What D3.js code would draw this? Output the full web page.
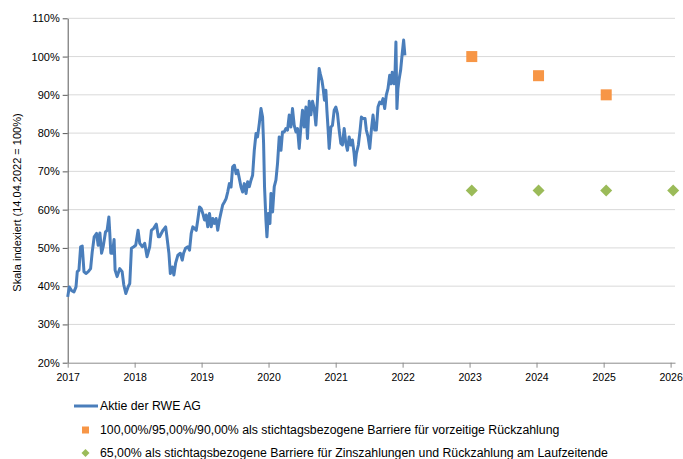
<!DOCTYPE html>
<html><head><meta charset="utf-8">
<script src="https://cdn.jsdelivr.net/npm/d3@7"></script>
<style>
html,body{margin:0;padding:0;background:#fff;}
svg{display:block;font-family:"Liberation Sans",Arial,sans-serif;}
</style></head>
<body><svg id="c" width="683" height="459"></svg>
<script>
// Stock (indexed, 14.04.2022 = 100%) — time in decimal years
const stockT = [2017.000,2017.024,2017.060,2017.094,2017.124,2017.143,2017.168,2017.193,2017.217,2017.243,2017.272,2017.307,2017.342,2017.366,2017.396,2017.432,2017.455,2017.481,2017.506,2017.530,2017.565,2017.589,2017.615,2017.629,2017.644,2017.670,2017.693,2017.708,2017.738,2017.778,2017.813,2017.838,2017.868,2017.902,2017.927,2017.952,2017.987,
2018.016,2018.051,2018.076,2018.116,2018.150,2018.185,2018.225,2018.250,2018.284,2018.324,2018.354,2018.373,2018.423,2018.463,2018.482,2018.512,2018.533,2018.563,2018.586,2018.612,2018.646,2018.682,2018.711,2018.731,2018.760,2018.795,2018.820,2018.845,2018.869,2018.894,2018.920,2018.943,2018.969,2018.994,
2019.018,2019.043,2019.068,2019.092,2019.118,2019.143,2019.167,2019.192,2019.217,2019.241,2019.266,2019.292,2019.315,2019.341,2019.366,2019.390,2019.415,2019.440,2019.464,2019.490,2019.515,2019.539,2019.564,2019.589,2019.613,2019.638,2019.664,2019.688,2019.713,2019.738,2019.762,2019.787,2019.813,2019.836,2019.862,2019.887,2019.911,2019.926,2019.940,2019.961,2019.976,2019.996,
2020.021,2020.036,2020.060,2020.085,2020.110,2020.134,2020.159,2020.185,2020.208,2020.234,2020.259,2020.283,2020.308,2020.333,2020.357,2020.382,2020.408,2020.432,2020.457,2020.482,2020.506,2020.531,2020.557,2020.580,2020.606,2020.631,2020.655,2020.680,2020.705,2020.729,2020.754,2020.769,2020.795,2020.814,2020.833,2020.854,2020.869,2020.888,2020.903,2020.929,2020.952,2020.978,
2021.003,2021.027,2021.052,2021.077,2021.101,2021.127,2021.152,2021.176,2021.201,2021.226,2021.250,2021.275,2021.290,2021.310,2021.339,2021.365,2021.384,2021.409,2021.439,2021.458,2021.484,2021.509,2021.533,2021.558,2021.583,2021.607,2021.632,2021.658,2021.682,2021.707,2021.732,2021.756,2021.781,2021.807,2021.826,2021.845,2021.871,2021.885,2021.900,2021.915,2021.930,2021.945,2021.970,2021.994,
2022.015,2022.034];
const stockV = [37.2,39.8,38.8,38.5,39.8,43.8,44.2,50.3,50.5,43.8,43.3,43.8,44.6,48.9,52.9,53.8,50.7,53.9,48.6,50.3,54.2,54.6,58.1,53.8,48.6,48.6,52.2,44.2,42.5,44.6,43.8,40.3,38.1,39.8,40.7,49.9,50.3,
50.7,54.6,51.2,50.3,51.2,47.7,50.3,54.6,55.1,56.2,52.9,52.9,54.6,55.5,52.9,48.6,43.3,45.0,42.9,46.0,48.1,48.6,46.8,48.6,49.9,50.3,49.4,53.8,55.5,55.1,54.6,57.3,60.7,60.3,
59.0,57.3,58.6,55.5,59.0,55.5,57.7,56.4,57.7,54.6,57.3,59.4,61.2,62.0,62.9,64.6,66.8,65.9,71.2,71.6,69.4,70.3,68.1,65.9,64.6,66.8,64.2,67.3,66.0,67.7,69.0,75.5,79.9,79.0,82.5,86.4,84.2,77.3,66.0,57.3,52.9,59.0,
56.4,64.2,59.4,66.0,67.7,72.1,79.0,75.5,80.3,80.3,81.2,80.8,84.7,81.6,86.4,82.1,80.3,81.2,76.0,81.6,86.0,81.6,86.8,78.6,88.3,84.8,88.3,86.4,82.1,88.7,96.9,95.6,93.8,91.6,88.6,91.2,86.0,80.8,76.0,81.6,82.0,86.0,
86.8,85.1,80.8,77.3,76.9,81.2,77.3,75.5,79.0,76.9,78.2,74.7,71.6,74.7,76.9,80.8,84.2,83.8,83.8,80.8,79.0,76.0,80.8,84.7,80.8,80.8,86.8,88.1,87.7,89.0,86.4,89.9,91.6,95.1,92.9,95.9,92.9,94.7,103.8,86.4,91.6,93.8,96.4,100.8,
104.3,100.3];

// Barriers
const earlyDates = ["2023-01-13","2024-01-12","2025-01-15"];
const earlyValues = [100, 95, 90];
const couponDates = ["2023-01-13","2024-01-12","2025-01-15","2026-01-15"];
const couponValues = [65, 65, 65, 65];

const yTicks = [20,30,40,50,60,70,80,90,100,110];
const xYears = [2017,2018,2019,2020,2021,2022,2023,2024,2025,2026];

const seriesNames = ["Aktie der RWE AG",
  "100,00%/95,00%/90,00% als stichtagsbezogene Barriere für vorzeitige Rückzahlung",
  "65,00% als stichtagsbezogene Barriere für Zinszahlungen und Rückzahlung am Laufzeitende"];
const yTitle = "Skala indexiert (14.04.2022 = 100%)";

const colLine = "#4a7ebb", colSq = "#f79646", colDia = "#9bbb59";

function decToDate(t){
  const y = Math.floor(t);
  const s = new Date(y,0,1), e = new Date(y+1,0,1);
  return new Date(s.getTime() + (t-y)*(e-s));
}

const svg = d3.select("#c");
const L = 67.7, R = 675, T = 18.3, B = 362.7;
const x = d3.scaleTime().domain([new Date(2017,0,1), new Date(2026,0,25)]).range([L, R]);
const y = d3.scaleLinear().domain([20,110]).range([B, T]);

// gridlines
svg.append("g").selectAll("line").data(yTicks.filter(v=>v>20)).join("line")
  .attr("x1", L).attr("x2", R).attr("y1", d=>y(d)).attr("y2", d=>y(d))
  .attr("stroke", "#d9d9d9").attr("stroke-width", 1);

// y axis
const yAxis = d3.axisLeft(y).tickValues(yTicks).tickFormat(d=>d+"%").tickSize(5).tickSizeOuter(0);
const gy = svg.append("g").attr("transform", `translate(${L},0)`).call(yAxis);
gy.select(".domain").attr("stroke", "#595959");
gy.selectAll(".tick line").attr("stroke", "#595959");
gy.selectAll("text").attr("font-size", 11).attr("fill", "#000").attr("x", -8);

// x axis
const xAxis = d3.axisBottom(x).tickValues(xYears.map(v=>new Date(v,0,1))).tickFormat(d3.timeFormat("%Y")).tickSize(5).tickSizeOuter(0);
const gx = svg.append("g").attr("transform", `translate(0,${B})`).call(xAxis);
gx.select(".domain").attr("stroke", "#8c8c8c");
gx.selectAll(".tick line").attr("stroke", "#8c8c8c");
gx.selectAll("text").attr("font-size", 10.5).attr("fill", "#000").attr("y", 11);

// y title
svg.append("text").attr("transform", `translate(21,${(T+B)/2+12}) rotate(-90)`)
  .attr("text-anchor", "middle").attr("font-size", 11).attr("fill", "#000").text(yTitle);

// stock line
const stock = stockT.map((t,i)=>({d:decToDate(t), v:stockV[i]}));
svg.append("path").datum(stock)
  .attr("d", d3.line().x(d=>x(d.d)).y(d=>y(d.v)))
  .attr("fill","none").attr("stroke", colLine).attr("stroke-width", 3).attr("stroke-linejoin","round");

// early redemption squares
const pd = d3.timeParse("%Y-%m-%d");
const sqS = 11;
svg.append("g").selectAll("rect").data(earlyDates.map((d,i)=>({d:pd(d), v:earlyValues[i]}))).join("rect")
  .attr("x", d=>x(d.d)-sqS/2).attr("y", d=>y(d.v)-sqS/2).attr("width", sqS).attr("height", sqS)
  .attr("fill", colSq);

// coupon barrier diamonds
const dS = 6;
svg.append("g").selectAll("path").data(couponDates.map((d,i)=>({d:pd(d), v:couponValues[i]}))).join("path")
  .attr("d", d=>{const cx=x(d.d), cy=y(d.v); return `M${cx},${cy-dS}L${cx+dS},${cy}L${cx},${cy+dS}L${cx-dS},${cy}Z`;})
  .attr("fill", colDia);

// legend
const lg = svg.append("g");
const ly = [406, 430, 453];
lg.append("line").attr("x1", 74).attr("x2", 98).attr("y1", ly[0]).attr("y2", ly[0]).attr("stroke", colLine).attr("stroke-width", 3);
lg.append("rect").attr("x", 82).attr("y", ly[1]-3.5).attr("width", 7).attr("height", 7).attr("fill", colSq);
lg.append("path").attr("d", `M85.5,${ly[2]-4}L89.5,${ly[2]}L85.5,${ly[2]+4}L81.5,${ly[2]}Z`).attr("fill", colDia);
lg.selectAll("text").data(seriesNames).join("text")
  .attr("x", 100).attr("y", (d,i)=>ly[i]).attr("dy", "0.35em")
  .attr("font-size", 12.3).attr("fill", "#000").text(d=>d);
</script></body></html>
